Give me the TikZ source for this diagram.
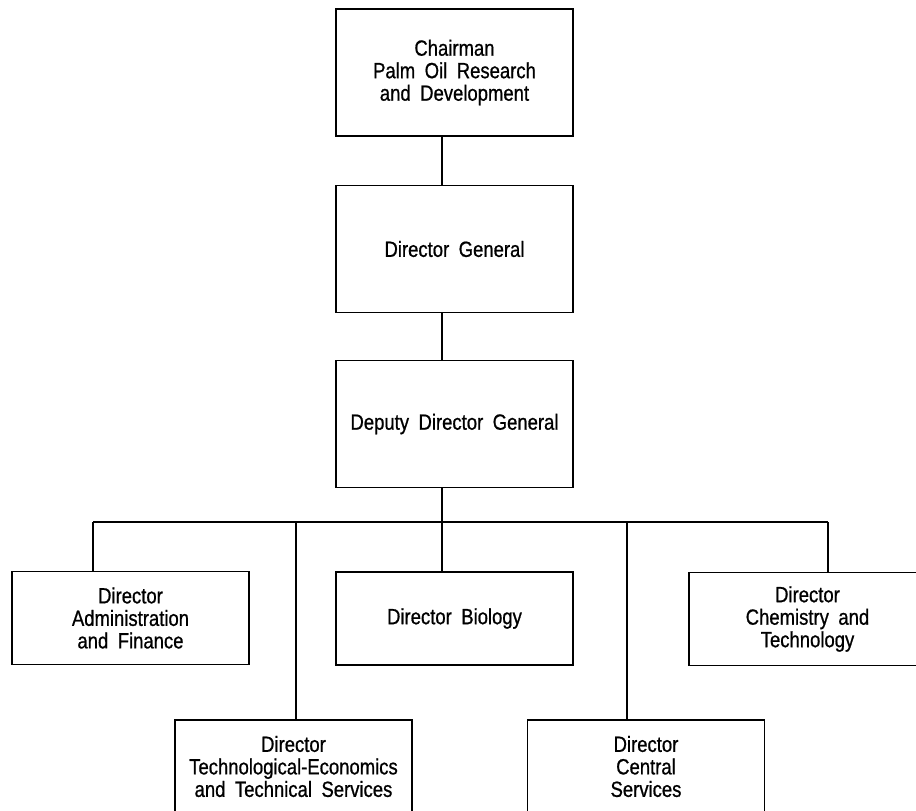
\documentclass[tikz,border=0pt]{standalone}
\usepackage{fontspec}
\setmainfont{Liberation Sans}[FakeStretch=0.84, WordSpace=1.85, FakeBold=0.8]
\begin{document}
\begin{tikzpicture}[x=1pt, y=-1pt,
  orgbox/.style={draw, rectangle, line width=1.9pt, inner sep=0pt, align=center,
    minimum width=237pt, font=\fontsize{22}{22.5}\selectfont},
  tallbox/.style={orgbox, minimum height=127pt},
  flatbox/.style={orgbox, minimum height=93pt},
  link/.style={line width=1.6pt}]
\useasboundingbox (0,0) rectangle (916,811);
\clip (0,0) rectangle (916,811);

% upper chain of command
\node[tallbox] (chair) at (454.5,72.5) {Chairman\\Palm Oil Research\\and Development};
\node[tallbox] (dg)    at (454.5,249)  {Director General};
\node[tallbox] (ddg)   at (454.5,424)  {Deputy Director General};

% directorates
\node[flatbox] (admin) at (130.5,618)  {Director\\Administration\\and Finance};
\node[flatbox] (bio)   at (454.5,618.5) {Director Biology};
\node[flatbox] (chem)  at (807.5,619)  {Director\\Chemistry and\\Technology};
\node[flatbox] (tech)  at (293.5,766.5) {Director\\Technological-Economics\\and Technical Services};
\node[flatbox] (cent)  at (646,766.5)  {Director\\Central\\Services};

% distribution bus and its taps
\coordinate (spine) at (442,522);
\coordinate (busL)  at (93,522);
\coordinate (busR)  at (828,522);
\coordinate (tapT)  at (296,522);
\coordinate (tapC)  at (627,522);

\draw[link] (chair.south -| spine) -- (dg.north -| spine);
\draw[link] (dg.south -| spine) -- (ddg.north -| spine);
\draw[link] (ddg.south -| spine) -- (bio.north -| spine);
\draw[link] (busL) -- (busR);
\draw[link] (busL) -- (busL |- admin.north);
\draw[link] (tapT) -- (tapT |- tech.north);
\draw[link] (tapC) -- (tapC |- cent.north);
\draw[link] (busR) -- (busR |- chem.north);
\end{tikzpicture}
\end{document}
